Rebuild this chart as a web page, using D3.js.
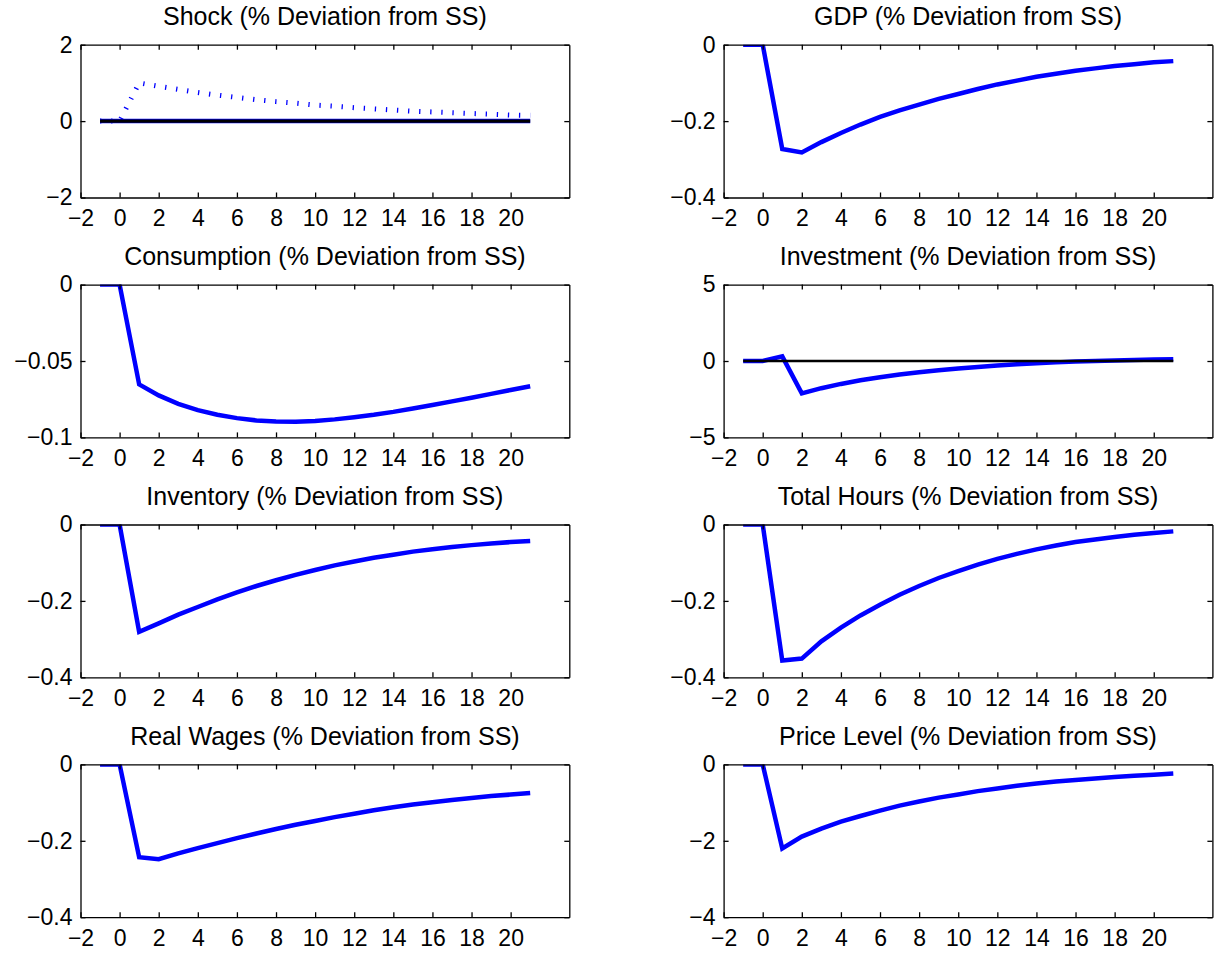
<!DOCTYPE html>
<html>
<head>
<meta charset="utf-8">
<script src="https://cdn.jsdelivr.net/npm/d3@7"></script>
<style>
  html, body { margin: 0; padding: 0; background: #ffffff; }
  svg { display: block; }
  text { font-family: "Liberation Sans", Arial, Helvetica, sans-serif; fill: #000; }
</style>
</head>
<body>
<svg id="fig" width="1214" height="956"></svg>
<script>
// Impulse responses, periods -1 .. 21
const periods = [-1, 0, 1, 2, 3, 4, 5, 6, 7, 8, 9, 10, 11, 12, 13, 14, 15, 16, 17, 18, 19, 20, 21];

const shockProcess = [0, 0, 1.00, 0.91, 0.83, 0.75, 0.68, 0.62, 0.56, 0.51, 0.47, 0.42, 0.39, 0.35, 0.32, 0.29, 0.26, 0.24, 0.22, 0.20, 0.18, 0.16, 0.15];
const shockResponse = [0, 0, 0, 0, 0, 0, 0, 0, 0, 0, 0, 0, 0, 0, 0, 0, 0, 0, 0, 0, 0, 0, 0];
const gdp = [0, 0, -0.273, -0.282, -0.255, -0.231, -0.209, -0.189, -0.172, -0.157, -0.142, -0.129, -0.116, -0.104, -0.094, -0.084, -0.076, -0.068, -0.062, -0.056, -0.051, -0.046, -0.043];
const consumption = [0, 0, -0.0653, -0.0725, -0.0780, -0.0822, -0.0852, -0.0874, -0.0889, -0.0896, -0.0897, -0.0892, -0.0882, -0.0868, -0.0852, -0.0833, -0.0811, -0.0788, -0.0764, -0.0740, -0.0715, -0.0690, -0.0665];
const investment = [0, 0, 0.30, -2.12, -1.78, -1.50, -1.26, -1.06, -0.89, -0.74, -0.61, -0.49, -0.39, -0.30, -0.22, -0.15, -0.09, -0.04, 0.00, 0.04, 0.07, 0.10, 0.12];
const inventory = [0, 0, -0.281, -0.259, -0.236, -0.216, -0.196, -0.178, -0.161, -0.146, -0.132, -0.119, -0.107, -0.097, -0.087, -0.079, -0.071, -0.065, -0.059, -0.054, -0.050, -0.046, -0.043];
const totalHours = [0, 0, -0.356, -0.351, -0.306, -0.270, -0.238, -0.210, -0.184, -0.161, -0.140, -0.122, -0.105, -0.090, -0.077, -0.065, -0.055, -0.046, -0.039, -0.033, -0.027, -0.022, -0.018];
const realWages = [0, 0, -0.243, -0.248, -0.233, -0.219, -0.206, -0.193, -0.181, -0.169, -0.158, -0.148, -0.138, -0.129, -0.120, -0.112, -0.105, -0.099, -0.093, -0.088, -0.083, -0.079, -0.075];
const priceLevel = [0, 0, -2.20, -1.89, -1.68, -1.50, -1.35, -1.21, -1.08, -0.97, -0.87, -0.79, -0.70, -0.63, -0.56, -0.50, -0.45, -0.41, -0.37, -0.33, -0.30, -0.27, -0.24];
const steadyState = [0, 0, 0, 0, 0, 0, 0, 0, 0, 0, 0, 0, 0, 0, 0, 0, 0, 0, 0, 0, 0, 0, 0];

const panelTitles = [
  "Shock (% Deviation from SS)", "GDP (% Deviation from SS)",
  "Consumption (% Deviation from SS)", "Investment (% Deviation from SS)",
  "Inventory (% Deviation from SS)", "Total Hours (% Deviation from SS)",
  "Real Wages (% Deviation from SS)", "Price Level (% Deviation from SS)"
];
const panelSeries = [shockResponse, gdp, consumption, investment, inventory, totalHours, realWages, priceLevel];
const yTickSets = [
  [-2, 0, 2], [-0.4, -0.2, 0],
  [-0.1, -0.05, 0], [-5, 0, 5],
  [-0.4, -0.2, 0], [-0.4, -0.2, 0],
  [-0.4, -0.2, 0], [-4, -2, 0]
];
const xDomain = [-2, 23];
const xTickValues = [-2, 0, 2, 4, 6, 8, 10, 12, 14, 16, 18, 20];

// Layout of the 4 x 2 subplot grid
const colLeft = [80.5, 723.6];
const plotW = 488.8;
const rowTop0 = 44.7, rowStep = 239.9, plotH = 152.8;
const fontTick = 23, fontTitle = 25;
const blue = "#0000ff";

const svg = d3.select("#fig");
svg.append("rect").attr("width", 1214).attr("height", 956).attr("fill", "#fff");

const fmt = d => String(d).replace("-", "\u2212");

panelTitles.forEach((title, i) => {
  const col = i % 2, row = Math.floor(i / 2);
  const left = colLeft[col], top = rowTop0 + rowStep * row;
  const yTicks = yTickSets[i];

  const x = d3.scaleLinear().domain(xDomain).range([0, plotW]);
  const y = d3.scaleLinear().domain([yTicks[0], yTicks[yTicks.length - 1]]).range([plotH, 0]);

  const g = svg.append("g").attr("transform", `translate(${left},${top})`);

  const clipId = "clip" + i;
  g.append("clipPath").attr("id", clipId)
    .append("rect").attr("width", plotW).attr("height", plotH);

  const plotArea = g.append("g").attr("clip-path", `url(#${clipId})`);
  const line = d3.line().x((d, k) => x(periods[k])).y(d => y(d));

  // main response (solid blue)
  plotArea.append("path").datum(panelSeries[i])
    .attr("d", line).attr("fill", "none")
    .attr("stroke", blue).attr("stroke-width", 4.5)
    .attr("stroke-linejoin", "miter");

  if (i === 0) {
    // shock process (dotted blue)
    plotArea.append("path").datum(shockProcess)
      .attr("d", line).attr("fill", "none")
      .attr("stroke", blue).attr("stroke-width", 5)
      .attr("stroke-dasharray", "1.3,9.8");
  }
  if (i === 0 || i === 3) {
    // steady-state reference line
    plotArea.append("path").datum(steadyState)
      .attr("d", line).attr("fill", "none")
      .attr("stroke", "#000").attr("stroke-width", i === 0 ? 3.2 : 2.6);
  }

  // axes: inward ticks on all four sides, labels on left and bottom
  const axes = [
    { ax: d3.axisBottom(x).tickValues(xTickValues).tickFormat(fmt).tickPadding(12), t: `translate(0,${plotH})` },
    { ax: d3.axisTop(x).tickValues(xTickValues).tickFormat(""), t: "translate(0,0)" },
    { ax: d3.axisLeft(y).tickValues(yTicks).tickFormat(fmt).tickPadding(8), t: "translate(0,0)" },
    { ax: d3.axisRight(y).tickValues(yTicks).tickFormat(""), t: `translate(${plotW},0)` }
  ];
  axes.forEach(a => {
    const ag = g.append("g").attr("transform", a.t)
      .call(a.ax.tickSizeInner(-5).tickSizeOuter(0));
    ag.select(".domain").attr("stroke", "#000").attr("stroke-width", 1.3);
    ag.selectAll(".tick line").attr("stroke", "#000").attr("stroke-width", 1.3);
    ag.selectAll(".tick text")
      .style("font-family", '"Liberation Sans", Arial, Helvetica, sans-serif')
      .style("font-size", fontTick + "px")
      .attr("fill", "#000");
  });

  g.append("text")
    .attr("x", plotW / 2).attr("y", -19.5)
    .attr("text-anchor", "middle")
    .style("font-size", fontTitle + "px")
    .text(title);
});
</script>
</body>
</html>
